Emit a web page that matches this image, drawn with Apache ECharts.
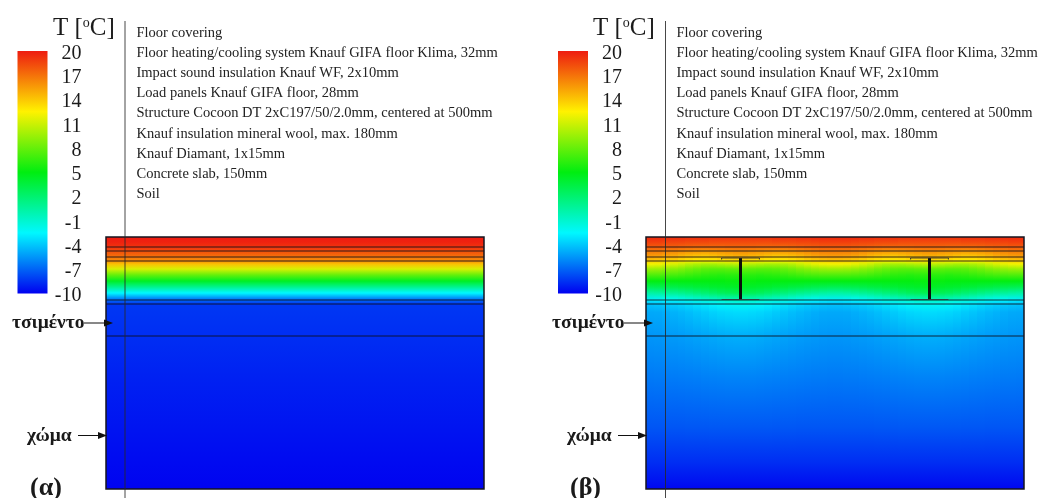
<!DOCTYPE html>
<html><head><meta charset="utf-8">
<style>html,body{margin:0;padding:0;background:#fff}#c{width:1054px;height:498px;filter:blur(0.5px)}</style>
<script src="https://cdn.jsdelivr.net/npm/echarts@6/dist/echarts.min.js"></script>
</head><body><div id="c"></div>
<script>
const tickValues = [20,17,14,11,8,5,2,-1,-4,-7,-10];
const paletteStops = [[-10,'#0000f0'],[-2.5,'#00f8ff'],[5,'#00ee10'],[12.5,'#fff200'],[20,'#ee1c10']];
const layerNames = ['Floor covering','Floor heating/cooling system Knauf GIFA floor Klima, 32mm','Impact sound insulation Knauf WF, 2x10mm','Load panels Knauf GIFA floor, 28mm','Structure Cocoon DT 2xC197/50/2.0mm, centered at 500mm','Knauf insulation mineral wool, max. 180mm','Knauf Diamant, 1x15mm','Concrete slab, 150mm','Soil'];
const layerDepths = [10,14,20,24,63,67,99];
const depthStops = [0,5,10,14,20,24,27,32,38,44,50,56,63,67,75,99,140,190,225,252];
const alphaProfile = [20,19.8,19.2,18.2,17,16,14.2,11.3,7.9,4.4,1,-2.5,-6.8,-8.3,-8.4,-8.6,-9,-9.4,-9.7,-9.9];
const betaProfiles = [
[19.5,18.8,17.8,16.7,15.3,13.9,12.2,9.6,7.3,5.1,2.9,0.4,-2.8,-4.1,-4.9,-5.45,-6.3,-7.4,-8.6,-9.8],
[19.5,18.8,17.8,16.7,15.2,13.8,12.1,9.5,7.3,5.1,3.0,0.5,-2.7,-4.0,-4.85,-5.42,-6.29,-7.4,-8.6,-9.8],
[19.5,18.7,17.7,16.5,15.0,13.6,11.8,9.3,7.2,5.1,3.1,0.7,-2.5,-3.9,-4.75,-5.38,-6.27,-7.4,-8.6,-9.8],
[19.4,18.6,17.6,16.3,14.7,13.3,11.4,9.0,7.1,5.1,3.2,0.9,-2.3,-3.75,-4.6,-5.32,-6.25,-7.4,-8.6,-9.8],
[19.4,18.6,17.5,16.1,14.3,13.0,11.0,8.7,6.9,5.1,3.4,1.1,-2.1,-3.55,-4.45,-5.25,-6.22,-7.39,-8.6,-9.8],
[19.3,18.5,17.4,15.9,14.0,12.7,10.5,8.3,6.7,5.1,3.5,1.4,-1.8,-3.35,-4.25,-5.17,-6.19,-7.38,-8.6,-9.8],
[19.3,18.5,17.3,15.8,13.8,12.5,10.2,8.0,6.5,5.1,3.7,1.7,-1.5,-3.1,-4.05,-5.08,-6.15,-7.37,-8.6,-9.8],
[19.3,18.5,17.3,15.7,13.7,12.4,10.0,7.7,6.3,5.1,3.8,2.0,-1.2,-2.9,-3.85,-4.98,-6.11,-7.36,-8.6,-9.8],
[19.2,18.4,17.3,15.8,13.9,12.5,10.0,7.6,6.2,5.1,4.0,2.3,-1.0,-2.65,-3.65,-4.88,-6.07,-7.35,-8.6,-9.8],
[19.2,18.4,17.3,15.9,14.2,12.7,10.2,7.6,6.1,5.1,4.1,2.6,-0.8,-2.45,-3.5,-4.8,-6.04,-7.34,-8.6,-9.8],
[19.2,18.4,17.4,16.0,14.4,12.9,10.4,7.7,6.2,5.2,4.2,2.8,-0.6,-2.3,-3.4,-4.75,-6.02,-7.33,-8.6,-9.8],
[19.2,18.4,17.4,16.1,14.6,13.0,10.6,7.8,6.2,5.2,4.3,2.9,-0.5,-2.25,-3.35,-4.72,-6.01,-7.33,-8.6,-9.8]
];
const webPositions = [250,750];
const flangeHalfWidth = 50;
const webTopDepth = 21, webBottomDepth = 62.5;
const panelWidthMm = 1000, panelDepth = 252;

function hex(s){return [1,3,5].map(i=>parseInt(s.substr(i,2),16));}
function tempColor(v){
  const p=paletteStops;
  if(v<=p[0][0])return p[0][1];
  for(let i=1;i<p.length;i++){
    if(v<=p[i][0]){
      const t=(v-p[i-1][0])/(p[i][0]-p[i-1][0]),a=hex(p[i-1][1]),b=hex(p[i][1]);
      return 'rgb('+a.map((c,k)=>Math.round(c+(b[k]-c)*t)).join(',')+')';
    }
  }
  return p[p.length-1][1];
}
function cellItem(profiles){
  return function(params,api){
    const a=api.coord([api.value(0),0]),b=api.coord([api.value(1),panelDepth]);
    const prof=profiles[api.value(2)];
    const stops=depthStops.map((d,i)=>({offset:d/panelDepth,color:tempColor(prof[i])}));
    const x0=Math.round(a[0]),x1=Math.round(b[0]);
    return {type:'rect',shape:{x:x0,y:a[1],width:x1-x0,height:b[1]-a[1]},
      style:{fill:new echarts.graphic.LinearGradient(0,0,0,1,stops)}};
  };
}
function layerLines(params,api){
  const d=api.value(0),a=api.coord([0,d]),b=api.coord([panelWidthMm,d]);
  return {type:'line',shape:{x1:a[0],y1:a[1],x2:b[0],y2:b[1]},style:{stroke:'rgba(15,15,25,0.85)',lineWidth:1}};
}
function frame(params,api){
  const a=api.coord([0,0]),b=api.coord([panelWidthMm,panelDepth]);
  return {type:'rect',shape:{x:a[0],y:a[1],width:b[0]-a[0],height:b[1]-a[1]},style:{fill:'none',stroke:'#15151f',lineWidth:1.5}};
}
function steel(params,api){
  const x=api.value(0),c=(p,q)=>api.coord([p,q]);
  const seg=(p1,p2,w,col)=>({type:'line',shape:{x1:p1[0],y1:p1[1],x2:p2[0],y2:p2[1]},style:{stroke:col,lineWidth:w}});
  const l=x-flangeHalfWidth,r=x+flangeHalfWidth;
  return {type:'group',children:[
    seg(c(x,webTopDepth),c(x,webBottomDepth),3,'#0c0c0c'),
    seg(c(l,webTopDepth),c(r,webTopDepth),0.8,'#333'),
    seg(c(l,webBottomDepth),c(r,webBottomDepth),0.8,'#333'),
    seg(c(l,webTopDepth),c(l,webTopDepth+1.5),1,'#333'),
    seg(c(r,webTopDepth),c(r,webTopDepth+1.5),1,'#333')
  ]};
}
function colorbar(params,api){
  const a=api.coord([0,api.value(1)]),b=api.coord([1,api.value(0)]);
  const lo=api.value(0),hi=api.value(1);
  const stops=paletteStops.map(s=>({offset:(hi-s[0])/(hi-lo),color:s[1]})).reverse();
  return {type:'rect',shape:{x:a[0],y:a[1],width:b[0]-a[0],height:b[1]-a[1]},style:{fill:new echarts.graphic.LinearGradient(0,0,0,1,stops)}};
}

const order=[];
const n=betaProfiles.length;
for(let h=0;h<4;h++){for(let k=0;k<n;k++){order.push(h%2===0?k:n-1-k);}}
const colW=panelWidthMm/order.length;
const betaCells=order.map((p,i)=>[i*colW,(i+1)*colW,p]);

const serif='"Liberation Serif","Times New Roman",serif';
const offsets=[0,540];
const panels=[106,646], bars=[17.5,558];
const grids=[],xAxes=[],yAxes=[],series=[];
panels.forEach((left,i)=>{
  grids.push({left:left,top:237,width:378,height:252});
  xAxes.push({type:'value',gridIndex:i,min:0,max:panelWidthMm,show:false});
  yAxes.push({type:'value',gridIndex:i,min:0,max:panelDepth,inverse:true,show:false});
  series.push({type:'custom',xAxisIndex:i,yAxisIndex:i,z:1,
    renderItem:cellItem(i===0?[alphaProfile]:betaProfiles),
    encode:{x:[0,1],y:[]},
    data:i===0?[[0,panelWidthMm,0]]:betaCells});
  series.push({type:'custom',xAxisIndex:i,yAxisIndex:i,z:2,renderItem:layerLines,encode:{y:0},data:layerDepths.map(d=>[d])});
  if(i===1) series.push({type:'custom',xAxisIndex:i,yAxisIndex:i,z:3,renderItem:steel,encode:{x:0},data:webPositions.map(x=>[x])});
  series.push({type:'custom',xAxisIndex:i,yAxisIndex:i,z:4,renderItem:frame,data:[[0]]});
});
bars.forEach((left,i)=>{
  const g=2+i;
  grids.push({left:left,top:51,width:30,height:242.5});
  xAxes.push({type:'value',gridIndex:g,min:0,max:1,show:false});
  yAxes.push({type:'value',gridIndex:g,min:-10,max:20,position:'right',
    axisLine:{show:false},axisTick:{show:false},splitLine:{show:false},
    axisLabel:{customValues:tickValues,margin:34,align:'right',formatter:'{a|{value}}',
      rich:{a:{padding:[5,0,0,0],fontFamily:serif,fontSize:20,color:'#1a1a1a'}}}});
  series.push({type:'custom',xAxisIndex:g,yAxisIndex:g,renderItem:colorbar,encode:{y:[0,1]},data:[[-10,20]]});
});

const graphic=[];
const tag=['(α)','(β)'];
offsets.forEach((o,i)=>{
  graphic.push({type:'line',z:20,shape:{x1:125+o+(i?0.5:0),y1:21,x2:125+o+(i?0.5:0),y2:498},style:{stroke:'rgba(40,40,40,0.85)',lineWidth:1}});
  graphic.push({type:'text',left:53+o,top:16,z:20,style:{text:'{a|T [}{s|o}{a|C]}',rich:{a:{fontFamily:serif,fontSize:25,fill:'#1a1a1a'},s:{fontFamily:serif,fontSize:14,fill:'#1a1a1a',verticalAlign:'top'}}}});
  layerNames.forEach((t,k)=>{
    graphic.push({type:'text',x:136.5+o,y:33+k*20.15,z:20,style:{text:t,fontFamily:serif,fontSize:14.5,fill:'#222',verticalAlign:'middle'}});
  });
  [['τσιμέντο',12,323,84,113],['χώμα',27,435.5,78,107]].forEach(r=>{
    graphic.push({type:'text',x:r[1]+o,y:r[2],z:20,style:{text:r[0],fontFamily:serif,fontWeight:'bold',fontSize:19.5,fill:'#1a1a1a',verticalAlign:'middle'}});
    graphic.push({type:'line',z:20,shape:{x1:r[3]+o,y1:r[2],x2:r[4]-8+o,y2:r[2]},style:{stroke:'#111',lineWidth:1}});
    graphic.push({type:'polygon',z:20,shape:{points:[[r[4]+o,r[2]],[r[4]-9+o,r[2]-3.5],[r[4]-9+o,r[2]+3.5]]},style:{fill:'#111'}});
  });
  graphic.push({type:'text',x:30+o,y:488,z:20,style:{text:tag[i],fontFamily:serif,fontWeight:'bold',fontSize:26,fill:'#1a1a1a',verticalAlign:'middle'}});
});

const chart=echarts.init(document.getElementById('c'),null,{renderer:'canvas',width:1054,height:498});
chart.setOption({animation:false,backgroundColor:'#fff',grid:grids,xAxis:xAxes,yAxis:yAxes,series:series,graphic:{elements:graphic}});
</script></body></html>
